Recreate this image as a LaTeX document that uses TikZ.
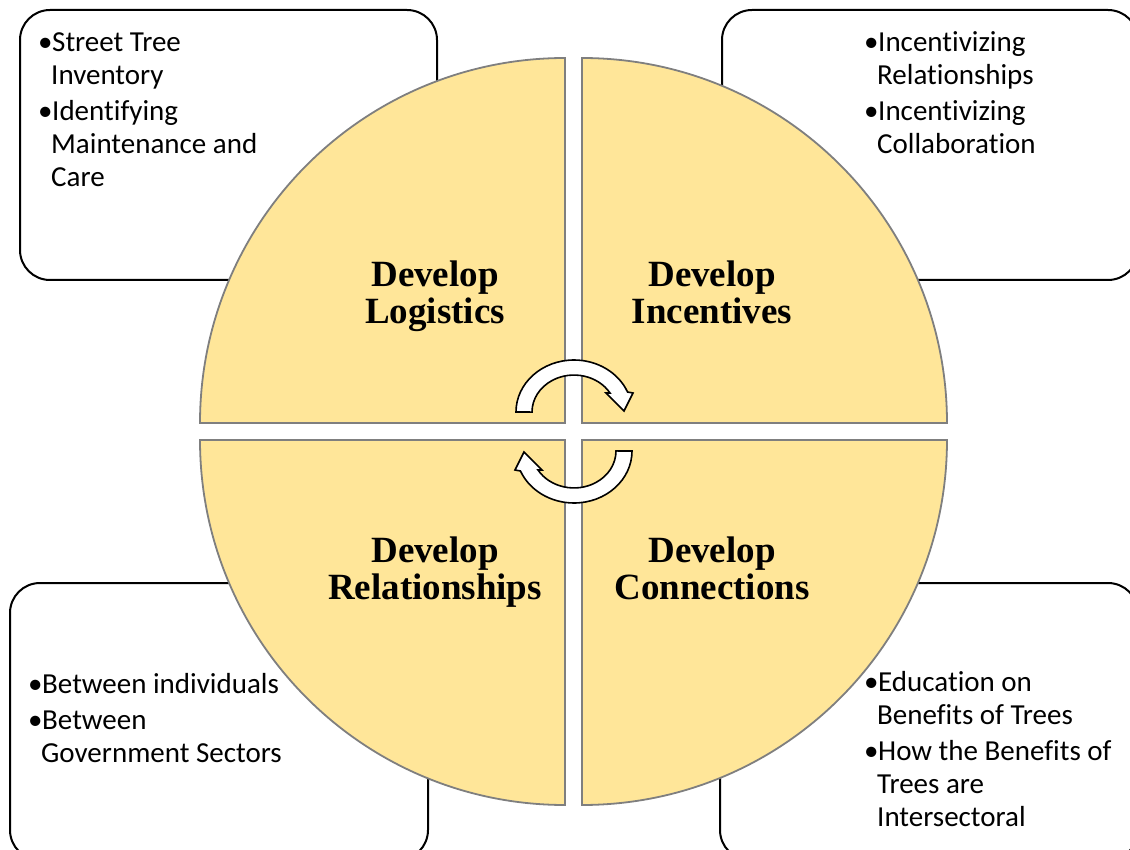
\documentclass[tikz,border=0pt]{standalone}
\usepackage{fontspec}
\newfontfamily\bodyfont[Ligatures=NoCommon, RawFeature={-liga;-clig}]{Carlito}
\newfontfamily\titlefont{Liberation Serif}
\definecolor{petal}{HTML}{FFE699}
\definecolor{petaledge}{HTML}{7F7F7F}
\newcommand\bul{\makebox[14pt][l]{•}}
\newcommand\ind{\hspace*{13pt}}

\tikzset{
  infobox/.style={draw=black, line width=2pt, fill=white, rounded corners=30pt},
  quarter/.style={draw=petaledge, line width=1.8pt, fill=petal},
  cyclearrow/.style={draw=black, line width=1.6pt, fill=white},
  title/.style={anchor=base, inner sep=0pt, font=\titlefont\bfseries\fontsize{37}{37}\selectfont},
  bullets/.style={anchor=base west, inner sep=0pt, font=\bodyfont\fontsize{29}{33}\selectfont},
}

\begin{document}
\begin{tikzpicture}[x=1pt, y=1pt, yscale=-1]
  \useasboundingbox (0,0) rectangle (1130,850);
  \clip (0,0) rectangle (1130,850);

  % corner boxes
  \path[infobox] (20,10) rectangle (437,280);
  \path[infobox] (722,10) rectangle (1138,280);
  \path[infobox] (10,583) rectangle (428,860);
  \path[infobox] (720,583) rectangle (1138,860);

  % four quarters of the circle
  \path[quarter] (565,423) -- (200,423) arc[start angle=180, end angle=270, radius=365] -- cycle;
  \path[quarter] (582,423) -- (582,58) arc[start angle=270, end angle=360, radius=365] -- cycle;
  \path[quarter] (582,440) -- (947,440) arc[start angle=0, end angle=90, radius=365] -- cycle;
  \path[quarter] (565,440) -- (565,805) arc[start angle=90, end angle=180, radius=365] -- cycle;

  % quarter titles
  \node[title] (logistics) at (435,287) {\begin{tabular}[t]{@{}c@{}}Develop\\Logistics\end{tabular}};
  \node[title] (incentives) at (712,287) {\begin{tabular}[t]{@{}c@{}}Develop\\Incentives\end{tabular}};
  \node[title] (relationships) at (435,562) {\begin{tabular}[t]{@{}c@{}}Develop\\Relationships\end{tabular}};
  \node[title] (connections) at (712,562) {\begin{tabular}[t]{@{}c@{}}Develop\\Connections\end{tabular}};

  % cycle arrows in the centre
  \path[cyclearrow] (516,412) arc[start angle=180, end angle=337.4, x radius=58, y radius=52]
    -- (633,393) -- (624,411) -- (606,393) -- (610,393)
    arc[start angle=329, end angle=180, x radius=42, y radius=37] -- cycle;
  \begin{scope}[rotate around={180:(574,431.5)}]
    \path[cyclearrow] (516,412) arc[start angle=180, end angle=337.4, x radius=58, y radius=52]
      -- (633,393) -- (624,411) -- (606,393) -- (610,393)
      arc[start angle=329, end angle=180, x radius=42, y radius=37] -- cycle;
  \end{scope}

  % bullet lists
  \node[bullets] (logisticsitems) at (38,52) {\begin{tabular}[t]{@{}l@{}}
    \bul Street Tree\\ \ind Inventory\\[3pt]
    \bul Identifying\\ \ind Maintenance and\\ \ind Care\end{tabular}};
  \node[bullets] (incentiveitems) at (864,52) {\begin{tabular}[t]{@{}l@{}}
    \bul Incentivizing\\ \ind Relationships\\[3pt]
    \bul Incentivizing\\ \ind Collaboration\end{tabular}};
  \node[bullets] (relationitems) at (28,693) {\begin{tabular}[t]{@{}l@{}}
    \bul Between individuals\\[3pt]
    \bul Between\\ \ind Government Sectors\end{tabular}};
  \node[bullets] (connectionitems) at (864,691) {\begin{tabular}[t]{@{}l@{}}
    \bul Education on\\ \ind Benefits of Trees\\[3pt]
    \bul How the Benefits of\\ \ind Trees are\\ \ind Intersectoral\end{tabular}};
\end{tikzpicture}
\end{document}
